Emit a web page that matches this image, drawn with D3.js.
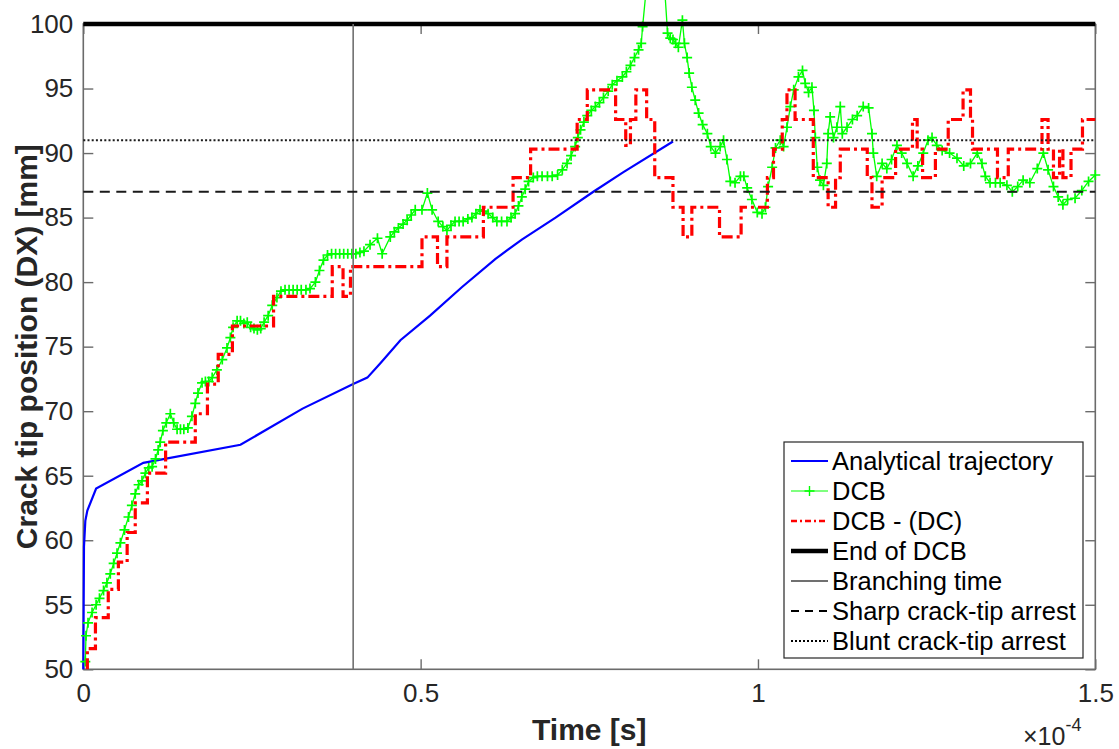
<!DOCTYPE html>
<html>
<head>
<meta charset="utf-8">
<script src="https://cdn.jsdelivr.net/npm/d3@7"></script>
<style>
  body { margin: 0; background: #fff; }
  text { font-family: "Liberation Sans", Arial, sans-serif; }
</style>
</head>
<body>
<div id="chart"></div>
<script>
// time in units of 1e-4 s, position in mm
var timeTicks = [0, 0.5, 1, 1.5];
var posTicks = [50, 55, 60, 65, 70, 75, 80, 85, 90, 95, 100];

var analytical = [[0,50],[0.001,59.5],[0.003,61.5],[0.006,62.3],[0.019,64.0],[0.089,66.0],[0.233,67.4],
  [0.325,70.2],[0.4,72.1],[0.421,72.6],[0.44,73.7],[0.47,75.5],[0.514,77.4],[0.561,79.6],[0.611,81.8],
  [0.65,83.3],[0.7,85.0],[0.756,87.0],[0.8,88.5],[0.874,90.9]];

var dcb = [[0.003,50.6],[0.004,52.6],[0.007,53.6],[0.013,54.4],[0.019,55.0],[0.024,55.5],[0.030,56.1],[0.035,56.7],
  [0.040,57.4],[0.045,58.2],[0.050,59.0],[0.055,59.8],[0.061,60.8],[0.067,61.8],[0.072,62.7],[0.077,63.6],
  [0.082,64.3],[0.087,64.6],[0.092,65.2],[0.097,65.6],[0.102,65.7],[0.107,66.3],[0.111,67.0],[0.114,67.6],
  [0.118,68.5],[0.123,69.1],[0.129,69.8],[0.134,69.1],[0.139,68.6],[0.144,68.6],[0.149,68.6],[0.155,68.7],
  [0.161,69.6],[0.166,70.6],[0.170,71.4],[0.176,72.2],[0.181,72.3],[0.186,72.3],[0.191,72.6],[0.198,73.2],
  [0.206,74.0],[0.213,74.9],[0.218,75.7],[0.222,76.5],[0.228,77.0],[0.233,77.0],[0.238,76.8],[0.243,76.9],
  [0.248,76.5],[0.253,76.4],[0.258,76.3],[0.263,76.4],[0.268,76.9],[0.274,77.4],[0.280,78.2],[0.287,78.8],
  [0.293,79.3],[0.299,79.4],[0.305,79.4],[0.311,79.4],[0.317,79.4],[0.323,79.4],[0.330,79.4],[0.336,79.5],
  [0.344,80.0],[0.350,80.9],[0.356,81.7],[0.362,82.1],[0.368,82.2],[0.374,82.2],[0.380,82.2],[0.386,82.2],
  [0.392,82.2],[0.398,82.2],[0.404,82.2],[0.410,82.3],[0.416,82.4],[0.425,82.9],[0.436,83.4],[0.443,82.2],
  [0.455,83.5],[0.461,83.9],[0.467,84.2],[0.474,84.5],[0.480,84.8],[0.486,85.2],[0.492,85.6],[0.502,85.6],
  [0.510,86.9],[0.517,85.6],[0.526,84.7],[0.533,84.3],[0.539,84.0],[0.545,84.4],[0.551,84.7],[0.557,84.7],
  [0.563,84.7],[0.570,84.9],[0.576,85.0],[0.582,85.3],[0.588,85.6],[0.594,85.5],[0.600,85.3],[0.607,85.0],
  [0.613,84.7],[0.620,84.7],[0.628,84.7],[0.634,85.0],[0.640,85.3],[0.645,85.9],[0.650,86.6],[0.655,87.2],
  [0.660,87.8],[0.667,88.1],[0.673,88.2],[0.680,88.2],[0.688,88.2],[0.695,88.2],[0.703,88.3],[0.710,88.7],
  [0.717,89.2],[0.723,89.8],[0.729,90.5],[0.733,91.2],[0.737,91.8],[0.742,92.4],[0.747,92.9],[0.753,93.3],
  [0.759,93.6],[0.765,93.9],[0.771,94.3],[0.778,94.8],[0.784,95.3],[0.791,95.6],[0.799,95.9],[0.805,96.3],
  [0.811,96.8],[0.817,97.4],[0.823,98.0],[0.827,98.5],[0.829,99.8],[0.834,102.5],[0.862,102.5],[0.866,99.3],
  [0.870,98.9],[0.874,98.8],[0.878,98.5],[0.882,98.2],[0.888,100.3],[0.891,98.5],[0.895,97.4],[0.898,96.2],
  [0.902,95.1],[0.907,94.1],[0.912,93.1],[0.918,92.2],[0.925,91.5],[0.930,90.5],[0.937,90.0],[0.944,90.5],
  [0.949,91.0],[0.954,89.5],[0.959,87.8],[0.966,87.7],[0.974,88.2],[0.979,88.2],[0.984,87.3],[0.991,86.4],
  [0.999,85.4],[1.006,85.3],[1.011,85.8],[1.015,87.4],[1.021,88.9],[1.026,90.4],[1.033,91.0],[1.038,90.5],
  [1.043,92.0],[1.048,93.6],[1.053,94.9],[1.060,95.9],[1.066,96.4],[1.070,95.4],[1.075,94.7],[1.080,95.1],
  [1.083,93.3],[1.085,91.2],[1.088,88.9],[1.092,87.9],[1.097,87.5],[1.102,89.2],[1.104,91.5],[1.107,92.8],
  [1.112,91.2],[1.117,92.0],[1.122,93.6],[1.125,91.5],[1.132,92.0],[1.140,92.6],[1.147,92.9],[1.156,93.6],
  [1.164,93.5],[1.169,91.5],[1.171,90.0],[1.176,88.2],[1.184,89.2],[1.191,88.8],[1.198,89.5],[1.206,90.6],
  [1.213,90.0],[1.221,89.2],[1.230,88.2],[1.237,89.0],[1.245,90.0],[1.252,91.0],[1.258,91.2],[1.265,90.6],
  [1.273,90.2],[1.284,90.0],[1.295,89.6],[1.305,89.0],[1.315,89.2],[1.325,90.0],[1.332,89.2],[1.337,88.2],
  [1.344,87.7],[1.352,87.7],[1.359,87.7],[1.369,87.5],[1.377,87.0],[1.385,87.4],[1.393,87.9],[1.403,87.7],
  [1.414,88.8],[1.423,90.0],[1.430,88.7],[1.438,87.4],[1.445,86.6],[1.452,86.0],[1.459,86.4],[1.470,86.5],
  [1.480,87.1],[1.490,87.8],[1.500,88.3]];

// step levels: value holds from t until next t
var dcbDC = [[0.006,50],[0.006,51.6],[0.018,54.0],[0.037,56.2],[0.052,58.3],[0.065,60.6],[0.077,62.9],
  [0.095,65.2],[0.122,67.6],[0.166,69.8],[0.184,72.1],[0.200,74.4],[0.221,76.6],[0.282,78.9],[0.369,81.2],
  [0.385,78.9],[0.396,81.2],[0.502,83.5],[0.525,81.2],[0.539,83.5],[0.593,85.8],[0.637,88.1],[0.663,90.3],
  [0.732,92.6],[0.747,94.9],[0.789,92.6],[0.804,90.6],[0.811,92.6],[0.819,94.9],[0.835,92.6],[0.847,88.1],
  [0.874,85.8],[0.889,83.5],[0.902,85.8],[0.943,83.5],[0.975,85.8],[1.014,88.1],[1.023,90.3],[1.036,92.6],
  [1.043,94.9],[1.055,92.6],[1.082,88.1],[1.104,85.8],[1.115,88.1],[1.122,90.3],[1.162,88.1],[1.169,85.8],
  [1.184,88.1],[1.204,90.3],[1.229,92.6],[1.236,90.3],[1.244,88.1],[1.263,90.3],[1.282,92.6],[1.304,94.9],
  [1.315,92.6],[1.318,90.3],[1.355,88.1],[1.371,90.3],[1.421,92.6],[1.430,90.3],[1.438,88.1],[1.447,90.3],
  [1.452,88.1],[1.464,90.3],[1.481,92.6],[1.500,92.6]];

var endOfDCB = 100;
var branchingTime = 0.4;
var sharpArrest = 87;
var bluntArrest = 91;

var legendLabels = ["Analytical trajectory", "DCB", "DCB - (DC)", "End of DCB",
  "Branching time", "Sharp crack-tip arrest", "Blunt crack-tip arrest"];

var w = 1119, h = 749;
var plotLeft = 83.3, plotRight = 1095.3, plotTop = 24, plotBottom = 669.3;

var svg = d3.select("#chart").append("svg")
    .attr("width", w)
    .attr("height", h);

var x = d3.scaleLinear().domain([0, 1.5]).range([plotLeft, plotRight]);
var y = d3.scaleLinear().domain([50, 100]).range([plotBottom, plotTop]);

var axisColour = "#6b6b6b";
var textColour = "#262626";

// axes box and inward ticks
svg.append("rect")
    .attr("x", plotLeft).attr("y", plotTop)
    .attr("width", plotRight - plotLeft).attr("height", plotBottom - plotTop)
    .attr("fill", "none").attr("stroke", axisColour).attr("stroke-width", 1.6);

function styleAxis(g) {
    g.select(".domain").remove();
    g.selectAll(".tick line").attr("stroke", axisColour).attr("stroke-width", 1.4);
    g.selectAll("text").attr("fill", textColour).attr("font-size", "26px")
        .attr("font-family", "'Liberation Sans', Arial, sans-serif");
}

svg.append("g").attr("transform", "translate(0," + plotBottom + ")")
    .call(d3.axisBottom(x).tickValues(timeTicks).tickFormat(d3.format("~g")).tickSizeInner(-10).tickPadding(14))
    .call(styleAxis);
svg.append("g").attr("transform", "translate(0," + plotTop + ")")
    .call(d3.axisTop(x).tickValues(timeTicks).tickFormat("").tickSizeInner(-10))
    .call(styleAxis);
svg.append("g").attr("transform", "translate(" + plotLeft + ",0)")
    .call(d3.axisLeft(y).tickValues(posTicks).tickSizeInner(-10).tickPadding(10))
    .call(styleAxis);
svg.append("g").attr("transform", "translate(" + plotRight + ",0)")
    .call(d3.axisRight(y).tickValues(posTicks).tickFormat("").tickSizeInner(-10))
    .call(styleAxis);

var line = d3.line().x(function(d) { return x(d[0]); }).y(function(d) { return y(d[1]); });
var stepLine = d3.line().curve(d3.curveStepAfter)
    .x(function(d) { return x(d[0]); }).y(function(d) { return y(d[1]); });

// analytical trajectory
svg.append("path").datum(analytical)
    .attr("d", line).attr("fill", "none")
    .attr("stroke", "#0000ff").attr("stroke-width", 2.2);

// DCB with + markers
svg.append("path").datum(dcb)
    .attr("d", line).attr("fill", "none")
    .attr("stroke", "#00ff00").attr("stroke-width", 1.3);
var plus = "M-5,0H5M0,-5V5";
svg.append("g").selectAll("path")
    .data(dcb)
    .enter()
    .append("path")
    .attr("transform", function(d) { return "translate(" + x(d[0]) + "," + y(d[1]) + ")"; })
    .attr("d", plus)
    .attr("stroke", "#00ff00").attr("stroke-width", 1.7).attr("fill", "none");

// DCB - (DC)
svg.append("path").datum(dcbDC)
    .attr("d", stepLine).attr("fill", "none")
    .attr("stroke", "#ff0000").attr("stroke-width", 3.2)
    .attr("stroke-dasharray", "11,4,3,4");

// reference lines
svg.append("line")
    .attr("x1", x(0)).attr("x2", x(1.5)).attr("y1", y(endOfDCB)).attr("y2", y(endOfDCB))
    .attr("stroke", "#000").attr("stroke-width", 4.5);
svg.append("line")
    .attr("x1", x(branchingTime)).attr("x2", x(branchingTime)).attr("y1", y(50)).attr("y2", y(100))
    .attr("stroke", "#707070").attr("stroke-width", 1.6);
svg.append("line")
    .attr("x1", x(0)).attr("x2", x(1.5)).attr("y1", y(sharpArrest)).attr("y2", y(sharpArrest))
    .attr("stroke", "#1a1a1a").attr("stroke-width", 2).attr("stroke-dasharray", "10,6.5");
svg.append("line")
    .attr("x1", x(0)).attr("x2", x(1.5)).attr("y1", y(bluntArrest)).attr("y2", y(bluntArrest))
    .attr("stroke", "#1a1a1a").attr("stroke-width", 2).attr("stroke-dasharray", "2,2.2");

// axis labels
svg.append("text")
    .attr("x", (plotLeft + plotRight) / 2).attr("y", 740)
    .attr("text-anchor", "middle").attr("font-size", "30px").attr("font-weight", "bold")
    .attr("fill", textColour).text("Time [s]");
svg.append("text")
    .attr("transform", "translate(37," + (plotTop + plotBottom) / 2 + ") rotate(-90)")
    .attr("text-anchor", "middle").attr("font-size", "30px").attr("font-weight", "bold")
    .attr("fill", textColour).text("Crack tip position (DX) [mm]");

var expo = svg.append("text")
    .attr("x", 1023).attr("y", 745).attr("font-size", "25px").attr("fill", textColour);
expo.append("tspan").text("\u00d710");
expo.append("tspan").attr("font-size", "18px").attr("dy", -14).text("-4");

// legend
var legX = 784, legY = 442, legW = 299, legH = 216, rowH = 30;
var legend = svg.append("g");
legend.append("rect")
    .attr("x", legX).attr("y", legY).attr("width", legW).attr("height", legH)
    .attr("fill", "#fff").attr("stroke", "#262626").attr("stroke-width", 1.2);

var legendStyles = [
    { stroke: "#0000ff", width: 2.2, dash: null },
    { stroke: "#00ff00", width: 1.2, dash: null, marker: true },
    { stroke: "#ff0000", width: 2.5, dash: "6,3,2,3" },
    { stroke: "#000", width: 4.5, dash: null },
    { stroke: "#404040", width: 1.4, dash: null },
    { stroke: "#000", width: 2, dash: "8,6" },
    { stroke: "#000", width: 2, dash: "2,2" }
];

var rows = legend.selectAll("g.row")
    .data(legendLabels)
    .enter()
    .append("g")
    .attr("class", "row")
    .attr("transform", function(d, i) { return "translate(0," + (legY + 19 + i * rowH) + ")"; });

rows.append("line")
    .attr("x1", 791).attr("x2", 828).attr("y1", 0).attr("y2", 0)
    .attr("stroke", function(d, i) { return legendStyles[i].stroke; })
    .attr("stroke-width", function(d, i) { return legendStyles[i].width; })
    .attr("stroke-dasharray", function(d, i) { return legendStyles[i].dash; });

rows.filter(function(d, i) { return legendStyles[i].marker; })
    .append("path")
    .attr("transform", "translate(809.5,0)")
    .attr("d", plus)
    .attr("stroke", "#00ff00").attr("stroke-width", 1.4);

rows.append("text")
    .attr("x", 832).attr("y", 9)
    .attr("font-size", "25.5px").attr("fill", "#000")
    .text(function(d) { return d; });
</script>
</body>
</html>
